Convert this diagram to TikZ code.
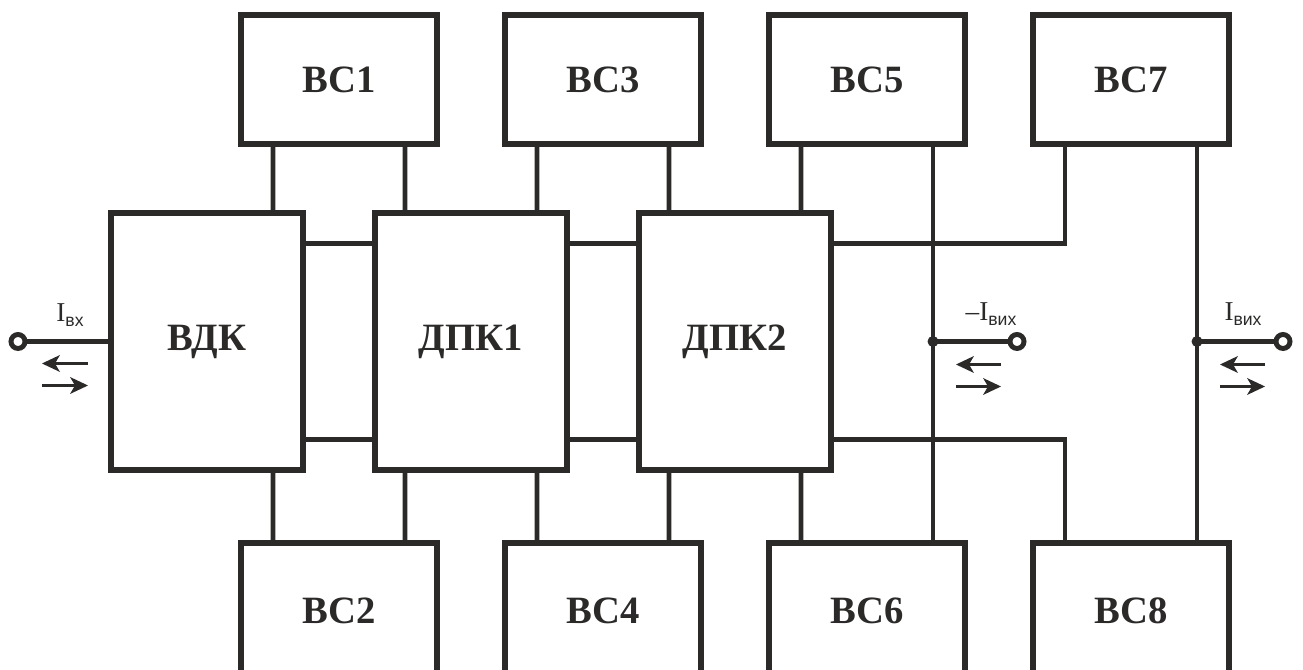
\documentclass[tikz,border=0pt]{standalone}
\usepackage{fontspec}
\setmainfont{Liberation Serif}
\setsansfont{Liberation Sans}
\usetikzlibrary{arrows.meta, calc}

\definecolor{ink}{HTML}{2B2A29}
\newcommand{\lowsub}[1]{\raisebox{-0.18em}{\sffamily\fontsize{10}{10}\selectfont #1}}

\begin{document}
\begin{tikzpicture}[
  bc/.style  ={draw=ink, line width=3.6pt, minimum width=3.92cm, minimum height=2.58cm,
               text=ink, font=\bfseries\fontsize{22}{22}\selectfont},
  bcl/.style ={bc, minimum height=2.9cm},
  blk/.style ={draw=ink, line width=3.6pt, minimum width=3.84cm, minimum height=5.14cm,
               text=ink, font=\bfseries\fontsize{22}{22}\selectfont},
  wire/.style={draw=ink, line width=2.8pt},
  term/.style={circle, draw=ink, fill=white, line width=2.8pt, minimum size=0.28cm, inner sep=0pt},
  jdot/.style={circle, fill=ink, minimum size=0.22cm, inner sep=0pt},
  flow/.style={-{Stealth[length=0.36cm, width=0.34cm, inset=0.1cm, line width=0pt]}, draw=ink, line width=2.2pt},
  lbl/.style ={text=ink, font=\fontsize{15.5}{15.5}\selectfont},
]
\clip (0,0) rectangle (26.06,13.4);

% converter blocks
\node[blk] (vdk)  at (4.14,6.57)  {ВДК};
\node[blk] (dpk1) at (9.42,6.57)  {ДПК1};
\node[blk] (dpk2) at (14.70,6.57) {ДПК2};

% cells, top and bottom rows
\node[bc] (bc1) at (6.78,11.81)  {ВС1};
\node[bc] (bc3) at (12.06,11.81) {ВС3};
\node[bc] (bc5) at (17.34,11.81) {ВС5};
\node[bc] (bc7) at (22.62,11.81) {ВС7};
\node[bcl] (bc2) at (6.78,1.09)  {\raisebox{0.2cm}{ВС2}};
\node[bcl] (bc4) at (12.06,1.09) {\raisebox{0.2cm}{ВС4}};
\node[bcl] (bc6) at (17.34,1.09) {\raisebox{0.2cm}{ВС6}};
\node[bcl] (bc8) at (22.62,1.09) {\raisebox{0.2cm}{ВС8}};

% links between blocks
\draw[wire] ([yshift=1.96cm]vdk.east)   -- ([yshift=1.96cm]dpk1.west);
\draw[wire] ([yshift=-1.96cm]vdk.east)  -- ([yshift=-1.96cm]dpk1.west);
\draw[wire] ([yshift=1.96cm]dpk1.east)  -- ([yshift=1.96cm]dpk2.west);
\draw[wire] ([yshift=-1.96cm]dpk1.east) -- ([yshift=-1.96cm]dpk2.west);

% cell legs
\draw[wire] ([xshift=-1.32cm]bc1.south) -- ([xshift=1.32cm]vdk.north);
\draw[wire] ([xshift=1.32cm]bc1.south)  -- ([xshift=-1.32cm]dpk1.north);
\draw[wire] ([xshift=-1.32cm]bc3.south) -- ([xshift=1.32cm]dpk1.north);
\draw[wire] ([xshift=1.32cm]bc3.south)  -- ([xshift=-1.32cm]dpk2.north);
\draw[wire] ([xshift=-1.32cm]bc5.south) -- ([xshift=1.32cm]dpk2.north);
\draw[wire] ([xshift=-1.32cm]bc2.north) -- ([xshift=1.32cm]vdk.south);
\draw[wire] ([xshift=1.32cm]bc2.north)  -- ([xshift=-1.32cm]dpk1.south);
\draw[wire] ([xshift=-1.32cm]bc4.north) -- ([xshift=1.32cm]dpk1.south);
\draw[wire] ([xshift=1.32cm]bc4.north)  -- ([xshift=-1.32cm]dpk2.south);
\draw[wire] ([xshift=-1.32cm]bc6.north) -- ([xshift=1.32cm]dpk2.south);
\draw[wire] ([xshift=-1.32cm]bc7.south) |- ([yshift=1.96cm]dpk2.east);
\draw[wire] ([xshift=-1.32cm]bc8.north) |- ([yshift=-1.96cm]dpk2.east);

% output buses
\draw[wire] ([xshift=1.32cm]bc5.south) -- ([xshift=1.32cm]bc6.north);
\draw[wire] ([xshift=1.32cm]bc7.south) -- ([xshift=1.32cm]bc8.north);
\coordinate (j1) at (18.66,6.57);
\coordinate (j2) at (23.94,6.57);

% terminals
\node[term] (tin)  at (0.36,6.57)  {};
\node[term] (tmid) at (20.34,6.57) {};
\node[term] (tout) at (25.66,6.57) {};
\draw[wire] (tin) -- (vdk.west);
\draw[wire] (j1) -- (tmid);
\draw[wire] (j2) -- (tout);
\node[jdot] at (j1) {};
\node[jdot] at (j2) {};

\node[lbl] (lin)  at ($(tin)+(1.04,0.52)$) {I\lowsub{вх}};
\node[lbl] (lmid) at ($(j1)+(1.16,0.55)$)  {–I\lowsub{вих}};
\node[lbl] (lout) at ($(j2)+(0.92,0.55)$)  {I\lowsub{вих}};

% current directions
\draw[flow] ($(tin)+(1.40,-0.44)$) -- ($(tin)+(0.48,-0.44)$);
\draw[flow] ($(tin)+(0.48,-0.88)$) -- ($(tin)+(1.40,-0.88)$);
\draw[flow] ($(j1)+(1.36,-0.46)$)  -- ($(j1)+(0.46,-0.46)$);
\draw[flow] ($(j1)+(0.46,-0.90)$)  -- ($(j1)+(1.36,-0.90)$);
\draw[flow] ($(j2)+(1.36,-0.46)$)  -- ($(j2)+(0.46,-0.46)$);
\draw[flow] ($(j2)+(0.46,-0.90)$)  -- ($(j2)+(1.36,-0.90)$);
\end{tikzpicture}
\end{document}
